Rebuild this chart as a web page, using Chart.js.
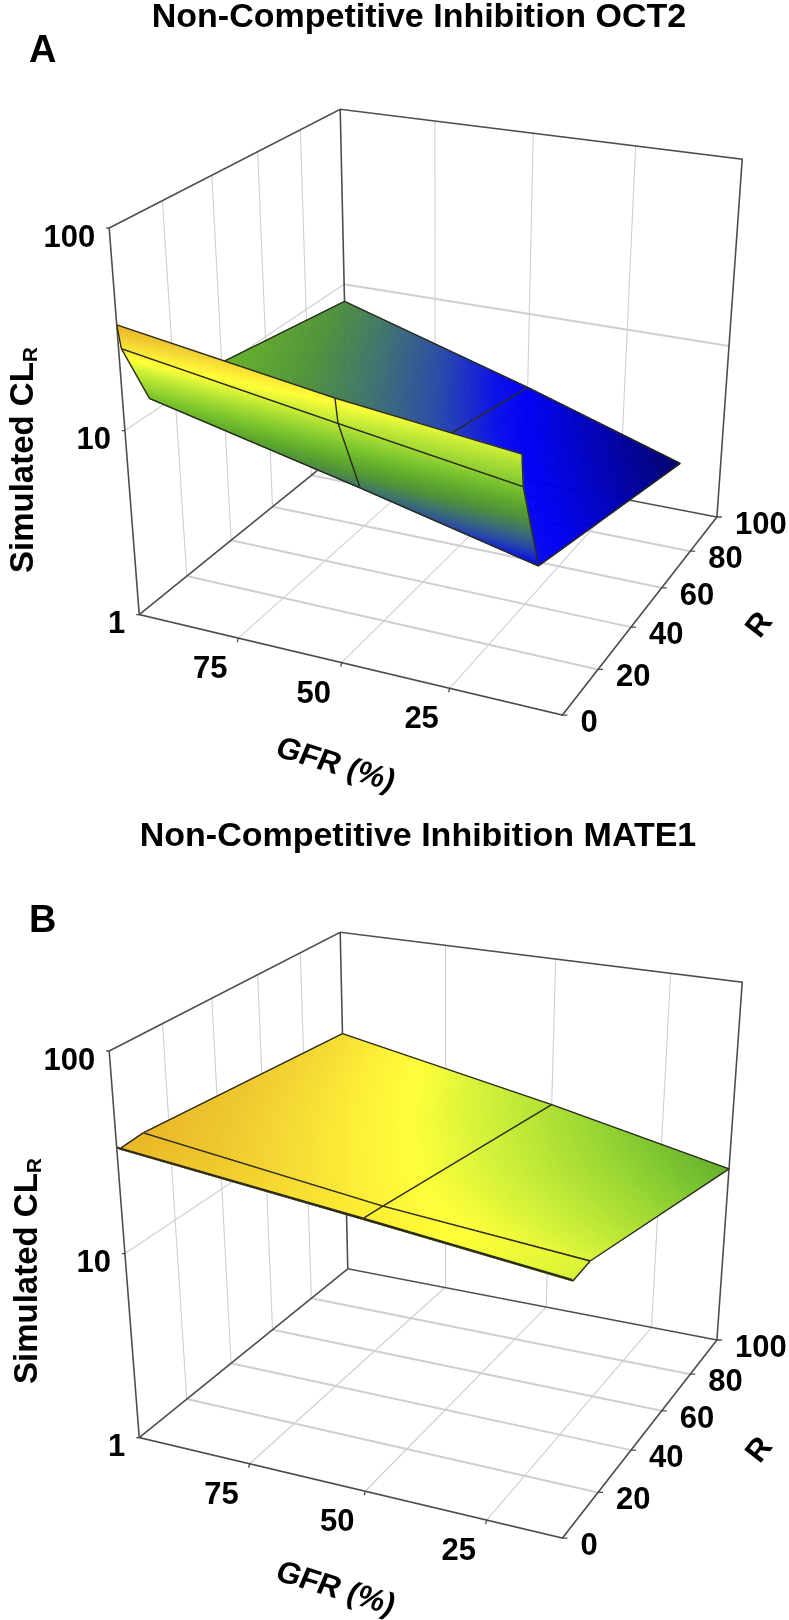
<!DOCTYPE html>
<html><head><meta charset="utf-8">
<style>html,body{margin:0;padding:0;background:#fff;overflow:hidden}canvas{position:absolute;left:0;display:block}</style>
<script src="https://cdn.jsdelivr.net/npm/chart.js@4"></script></head>
<body>
<canvas id="panelA" width="789" height="823" style="top:0;width:789px;height:823px"></canvas>
<canvas id="panelB" width="789" height="797" style="top:823px;width:789px;height:797px"></canvas>
<script>
// ---- data ----
const gfrValues = [100, 50, 10];
const rValues = [0, 1, 10, 100];
const oct2Gfr100 = [34.2, 25.6, 12.0, 7.9];
const oct2Gfr50 = [23.3, 17.2, 6.7, 3.7];
const oct2Gfr10 = [18.4, 12.6, 4.1, 1.9];
const mate1Gfr100 = [34.5, 33.2, 34.0, 27.0];
const mate1Gfr50 = [25.6, 24.6, 23.8, 16.0];
const mate1Gfr10 = [19.9, 19.1, 19.6, 10.0];
const gfrTicks = [75, 50, 25];
const rTicks = [0, 20, 40, 60, 80, 100];
const clTicks = [1, 10, 100];
const colorZ = [1.9, 2.6, 3.7, 4.2, 5.2, 6.5, 8, 10, 12.5, 16, 19, 22, 24.5, 27, 30, 35];
const colorHex = ['#00006a','#0000a8','#0000f5','#0a10e8','#2a4aa8','#3f7270','#50923c','#62ae2c','#80c830','#aee034','#d4f238','#ffff38','#fdee36','#f6dc34','#efc92e','#e8b226'];
const titleA = 'Non-Competitive Inhibition OCT2';
const titleB = 'Non-Competitive Inhibition MATE1';

// ---- camera of the 3D box: box-unit (u,v,w) to canvas, calibrated on the box corners ----
const calib = [[0,0,0,139.5,614],[1,0,0,563,715],[1,1,0,717,517.3],[0,1,0,347,446],[0,0,1,108.3,228.7],[0,1,1,341.5,109],[1,1,1,741.6,159]];
function solve(A,b){const n=b.length,M=A.map((r,i)=>[...r,b[i]]);
  for(let i=0;i<n;i++){let p=i;for(let k=i;k<n;k++)if(Math.abs(M[k][i])>Math.abs(M[p][i]))p=k;[M[i],M[p]]=[M[p],M[i]];
    for(let k=0;k<n;k++)if(k!==i){const f=M[k][i]/M[i][i];for(let j=i;j<=n;j++)M[k][j]-=f*M[i][j];}}
  return M.map((r,i)=>r[n]/r[i]);}
const cam=(()=>{const rows=[],rhs=[];
  for(const [u,v,w,x,y] of calib){rows.push([u,v,w,1,0,0,0,0,-x*u,-x*v,-x*w]);rhs.push(x);rows.push([0,0,0,0,u,v,w,1,-y*u,-y*v,-y*w]);rhs.push(y);}
  const N=Array.from({length:11},(_,i)=>Array.from({length:11},(_,j)=>rows.reduce((s,r)=>s+r[i]*r[j],0)));
  const t=Array.from({length:11},(_,i)=>rows.reduce((s,r,k)=>s+r[i]*rhs[k],0));
  return solve(N,t);})();
function projectUnit(u,v,w){const d=cam[8]*u+cam[9]*v+cam[10]*w+1;
  return {x:(cam[0]*u+cam[1]*v+cam[2]*w+cam[3])/d,y:(cam[4]*u+cam[5]*v+cam[6]*w+cam[7])/d};}
const GAP={x:NaN,y:NaN};
function hex(c){return [1,3,5].map(i=>parseInt(c.substr(i,2),16));}
const colorRgb=colorHex.map(hex), colorLog=colorZ.map(Math.log10);
function colorAt(lz){
  if(lz<=colorLog[0])return colorRgb[0];
  for(let i=1;i<colorLog.length;i++)if(lz<=colorLog[i]){const t=(lz-colorLog[i-1])/(colorLog[i]-colorLog[i-1]);
    return colorRgb[i].map((c,k)=>colorRgb[i-1][k]+(c-colorRgb[i-1][k])*t);}
  return colorRgb[colorRgb.length-1];}

function buildPanel(id,height,gfrMin,surface,letter,title,labels){
  const U=g=>(100-g)/(100-gfrMin), V=r=>r/100, W=z=>Math.log10(z)/2;
  const P=(g,r,z)=>projectUnit(U(g),V(r),W(z));
  const seg=(...list)=>{const out=[];list.forEach(s=>{out.push(...s,GAP);});return out;};
  const off=(p,dx,dy)=>({x:p.x+dx,y:p.y+dy});
  const innerR=rTicks.slice(1,-1);
  const thin=[], thick=[], frame=[];
  innerR.forEach(r=>thin.push([P(100,r,1),P(100,r,100)]));
  gfrTicks.forEach(g=>thin.push([P(g,100,1),P(g,100,100)]));
  gfrTicks.forEach(g=>thin.push([P(g,0,1),P(g,100,1)]));
  thin.push([P(100,0,10),P(100,100,10)]);
  thick.push([P(100,100,10),P(gfrMin,100,10)]);
  innerR.forEach(r=>thick.push([P(100,r,1),P(gfrMin,r,1)]));
  frame.push([P(100,0,100),P(100,0,1),P(gfrMin,0,1),P(gfrMin,100,1),P(100,100,1),P(100,0,1)]);
  frame.push([P(100,0,100),P(100,100,100),P(gfrMin,100,100),P(gfrMin,100,1)]);
  frame.push([P(100,100,100),P(100,100,1)]);
  const ticks=[];
  gfrTicks.forEach(g=>{const p=P(g,0,1);ticks.push([p,off(p,-1,4)]);});
  rTicks.forEach(r=>{const p=P(gfrMin,r,1);ticks.push([p,off(p,5,0)]);});
  clTicks.forEach(z=>{const p=P(100,0,z);ticks.push([p,off(p,-3,0)]);});

  const base={showLine:true,pointRadius:0,pointHoverRadius:0,tension:0,fill:false};
  const datasets=[
    {...base,label:'wall grid',data:seg(...thin),borderColor:'#cfcfcf',borderWidth:1.1,order:50},
    {...base,label:'floor grid',data:seg(...thick),borderColor:'#cfcfcf',borderWidth:2,order:49},
    {...base,label:'box',data:seg(...frame),borderColor:'#4d4d4d',borderWidth:1.6,order:48},
    {...base,label:'ticks',data:seg(...ticks),borderColor:'#4d4d4d',borderWidth:1.3,order:47}];
  for(let k=rValues.length-2;k>=0;k--){
    const lines=[];
    [k,k+1].forEach(j=>lines.push(gfrValues.map((g,i)=>P(g,rValues[j],surface[i][j]))));
    gfrValues.forEach((g,i)=>lines.push([P(g,rValues[k],surface[i][k]),P(g,rValues[k+1],surface[i][k+1])]));
    datasets.push({...base,label:'CL strip '+k,strip:k,data:seg(...lines),borderColor:'#2b2b1e',borderWidth:1.4,borderJoinStyle:'round',order:k+1});
  }
  const fillStrip={id:'fillStrip',beforeDatasetDraw(chart,args){
    const ds=chart.data.datasets[args.index]; if(ds.strip===undefined)return;
    const k=ds.strip,ctx=chart.ctx,sx=chart.scales.x,sy=chart.scales.y;
    const lg=(i,j)=>Math.log10(surface[i][j]);
    const NU=120,NV=k===0?16:60;
    ctx.save();ctx.lineWidth=0.8;ctx.lineJoin='round';
    for(let i=0;i<gfrValues.length-1;i++){
      const g0=gfrValues[i],g1=gfrValues[i+1],r0=rValues[k],r1=rValues[k+1];
      const pt=(a,b)=>{const lz=(lg(i,k)*(1-a)+lg(i+1,k)*a)*(1-b)+(lg(i,k+1)*(1-a)+lg(i+1,k+1)*a)*b;
        const p=projectUnit(U(g0+(g1-g0)*a),V(r0+(r1-r0)*b),lz/2);
        return {px:sx.getPixelForValue(p.x),py:sy.getPixelForValue(p.y),lz};};
      for(let a=0;a<NU;a++)for(let b=0;b<NV;b++){
        const q=[pt(a/NU,b/NV),pt((a+1)/NU,b/NV),pt((a+1)/NU,(b+1)/NV),pt(a/NU,(b+1)/NV)];
        const c=colorAt(q.reduce((s,e)=>s+e.lz,0)/4).map(Math.round);
        const col=`rgb(${c[0]},${c[1]},${c[2]})`;
        ctx.fillStyle=col;ctx.strokeStyle=col;
        ctx.beginPath();q.forEach((e,n)=>n?ctx.lineTo(e.px,e.py):ctx.moveTo(e.px,e.py));ctx.closePath();ctx.fill();ctx.stroke();
      }
    }
    ctx.restore();
  }};
  const FONT='"Liberation Sans",Arial,sans-serif';
  const text={id:'boxText',afterDraw(chart){
    const ctx=chart.ctx,sx=chart.scales.x,sy=chart.scales.y;
    const X=v=>sx.getPixelForValue(v),Y=v=>sy.getPixelForValue(v);
    ctx.save();ctx.fillStyle='#000';ctx.textBaseline='alphabetic';
    ctx.font=`bold ${labels.tickSize}px ${FONT}`;
    ctx.textAlign='right';
    clTicks.forEach(z=>{const p=P(100,0,z);ctx.fillText(String(z),X(p.x)-14,Y(p.y)+18.5);});
    ctx.textAlign='center';
    gfrTicks.forEach(g=>{const p=P(g,0,1);ctx.fillText(String(g),X(p.x)-28,Y(p.y)+40);});
    ctx.textAlign='left';
    rTicks.forEach(r=>{const p=P(gfrMin,r,1);ctx.fillText(String(r),X(p.x)+18,Y(p.y)+17);});
    ctx.textAlign='center';ctx.font=`bold ${labels.titleSize}px ${FONT}`;
    ctx.fillText(title,labels.titleX,labels.titleY);
    ctx.textAlign='left';ctx.font=`bold 38px ${FONT}`;
    ctx.fillText(letter,labels.letterX,labels.letterY);
    ctx.save();ctx.translate(labels.yTitleX,labels.yTitleBottom);ctx.rotate(-Math.PI/2);
    ctx.textAlign='left';ctx.font=`bold 33px ${FONT}`;
    ctx.fillText('Simulated CL',0,0);const w=ctx.measureText('Simulated CL').width;
    ctx.font=`bold 21px ${FONT}`;ctx.fillText('R',w,4);ctx.restore();
    ctx.font=`bold 31px ${FONT}`;ctx.textAlign='center';
    ctx.save();ctx.translate(336,labels.gfrTitleY);ctx.rotate(17*Math.PI/180);ctx.transform(1,0,-0.1,1,0,0);ctx.fillText('GFR (%)',0,10);ctx.restore();
    ctx.save();ctx.translate(758,labels.rTitleY);ctx.rotate(-52*Math.PI/180);ctx.fillText('R',0,11);ctx.restore();
    ctx.restore();
  }};
  return new Chart(document.getElementById(id),{
    type:'scatter',
    data:{datasets},
    options:{responsive:false,animation:false,layout:{padding:0},
      plugins:{legend:{display:false},tooltip:{enabled:false},title:{display:false}},
      events:[],
      scales:{x:{type:'linear',min:0,max:789,display:false},y:{type:'linear',min:0,max:height,reverse:true,display:false}}},
    plugins:[fillStrip,text]});
}
buildPanel('panelA',823,0,[oct2Gfr100,oct2Gfr50,oct2Gfr10],'A',titleA,
  {tickSize:31,titleSize:34,titleX:419,titleY:27,letterX:29,letterY:62,yTitleX:33,yTitleBottom:573,gfrTitleY:764,rTitleY:624});
buildPanel('panelB',797,10,[mate1Gfr100,mate1Gfr50,mate1Gfr10],'B',titleB,
  {tickSize:31,titleSize:34,titleX:418,titleY:23,letterX:29,letterY:109,yTitleX:37,yTitleBottom:561,gfrTitleY:765,rTitleY:626});
</script></body></html>
